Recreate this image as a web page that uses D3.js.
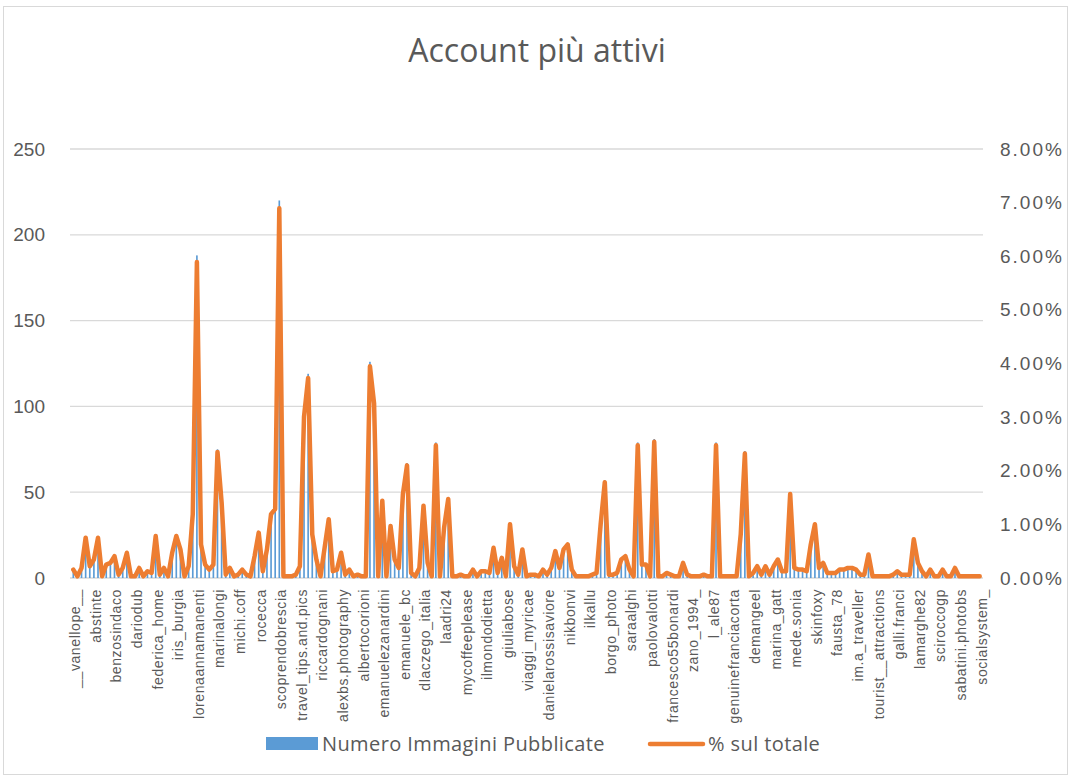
<!DOCTYPE html>
<html>
<head>
<meta charset="utf-8">
<title>Account più attivi</title>
<style>
    body { margin: 0; background: #fff; }
    svg { display: block; font-family: "Open Sans", "Noto Sans", sans-serif; }
</style>
</head>
<body>
<svg></svg>
<script src="https://d3js.org/d3.v7.min.js"></script>
<script>
    // account names shown on the axis (one every 5 accounts)
    let accountLabels = ["__vanellope__", "abstinte", "benzosindaco", "dariodub", "federica_home",
        "iris_burgia", "lorenaannamanenti", "marinalongi", "michi.coff", "rocecca",
        "scoprendobrescia", "travel_tips.and.pics", "riccardognani", "alexbs.photography", "albertocorioni",
        "emanuelezanardini", "emanuele_bc", "dlaczego_italia", "laadri24", "mycoffeeplease",
        "ilmondodietta", "giuliabose", "viaggi_myricae", "danielarossisaviore", "nikbonvi",
        "ilkallu", "borgo_photo", "saraalghi", "paolovalotti", "francesco55bonardi",
        "zano_1994_", "l_ale87", "genuinefranciacorta", "demangeel", "marina_gatt",
        "mede.sonia", "skinfoxy", "fausta_78", "im.a_traveller", "tourist__attractions",
        "galli.franci", "lamarghe82", "sciroccogp", "sabatini.photobs", "socialsystem_"];
    let labelEvery = 5;

    // Numero Immagini Pubblicate, one per account
    let immagini = [
        5, 1, 6, 24, 7, 11, 24, 1, 8, 9,
        13, 2, 6, 15, 1, 1, 6, 1, 4, 3,
        25, 2, 6, 1, 15, 25, 17, 1, 7, 38,
        188, 20, 8, 5, 8, 75, 45, 2, 6, 1,
        2, 5, 2, 1, 13, 27, 4, 17, 38, 41,
        220, 1, 1, 1, 2, 7, 96, 119, 26, 11,
        1, 18, 35, 4, 5, 15, 2, 5, 1, 2,
        1, 1, 126, 104, 1, 46, 1, 31, 11, 6,
        50, 67, 3, 1, 6, 43, 9, 1, 79, 1,
        30, 47, 1, 1, 2, 1, 1, 5, 1, 4,
        4, 3, 18, 3, 12, 1, 32, 7, 2, 17,
        1, 2, 2, 1, 5, 2, 6, 16, 6, 17,
        20, 5, 1, 1, 1, 1, 2, 3, 32, 57,
        2, 2, 3, 11, 13, 5, 1, 79, 8, 8,
        1, 81, 1, 1, 3, 2, 1, 1, 9, 2,
        1, 1, 1, 2, 1, 1, 79, 1, 1, 1,
        1, 1, 26, 74, 1, 3, 7, 2, 7, 2,
        7, 11, 4, 4, 50, 6, 5, 5, 4, 20,
        32, 6, 9, 3, 3, 3, 5, 5, 6, 6,
        5, 2, 2, 14, 1, 1, 1, 1, 1, 2,
        4, 2, 2, 2, 23, 9, 4, 1, 5, 1,
        1, 5, 1, 1, 6, 1, 1, 1, 1, 1, 1];
    // total number of images the percentage refers to
    let totaleImmagini = 3190;

    let leftTicks = [0, 50, 100, 150, 200, 250];
    let rightTicks = [0, 0.01, 0.02, 0.03, 0.04, 0.05, 0.06, 0.07, 0.08];

    let width = 1071, height = 778;
    let svg = d3.select("svg").attr("width", width).attr("height", height);

    let grey = "#595959";

    // chart border
    svg.append("rect")
        .attr("x", 3.5).attr("y", 6.5)
        .attr("width", 1064).attr("height", 768)
        .attr("fill", "#fff")
        .attr("stroke", "#d9d9d9");

    // title
    svg.append("text")
        .attr("x", 537).attr("y", 62)
        .attr("text-anchor", "middle")
        .attr("fill", grey)
        .style("font-size", "32px")
        .text("Account più attivi");

    let x = d3.scaleBand()
        .domain(d3.range(immagini.length))
        .range([70, 983])
        .padding(0.6);

    let y = d3.scaleLinear().domain([0, 250]).range([578, 149]);
    let y2 = d3.scaleLinear().domain([0, 0.08]).range([578, 149]);

    // gridlines
    svg.append("g")
        .selectAll("line")
        .data(leftTicks)
        .enter()
        .append("line")
        .attr("x1", 70).attr("x2", 983)
        .attr("y1", d => y(d)).attr("y2", d => y(d))
        .attr("stroke", "#d9d9d9")
        .attr("stroke-width", 1.3);

    // left axis
    let leftAxis = svg.append("g")
        .attr("transform", "translate(52,0)")
        .call(d3.axisLeft(y).tickValues(leftTicks).tickSize(0).tickPadding(7));
    leftAxis.select(".domain").remove();
    leftAxis.selectAll("text").attr("fill", grey).style("font-size", "19px");

    // right axis
    let rightAxis = svg.append("g")
        .attr("transform", "translate(993,0)")
        .call(d3.axisRight(y2).tickValues(rightTicks).tickFormat(d3.format(".2%")).tickSize(0).tickPadding(7));
    rightAxis.select(".domain").remove();
    rightAxis.selectAll("text").attr("fill", grey).style("font-size", "19px").style("letter-spacing", "2px");

    // category axis
    let xAxis = svg.append("g")
        .attr("transform", "translate(0,578)")
        .call(d3.axisBottom(x)
            .tickValues(d3.range(0, immagini.length, labelEvery))
            .tickFormat(i => accountLabels[i / labelEvery])
            .tickSize(0));
    xAxis.select(".domain").remove();
    xAxis.selectAll("text")
        .attr("fill", grey)
        .style("font-size", "14px")
        .style("letter-spacing", "0.6px")
        .attr("text-anchor", "end")
        .attr("transform", "rotate(-90)")
        .attr("x", -11)
        .attr("y", 2)
        .attr("dy", "0.35em");

    // bars
    svg.append("g")
        .selectAll("rect")
        .data(immagini)
        .enter()
        .append("rect")
        .attr("x", (d, i) => x(i))
        .attr("y", d => y(d))
        .attr("width", x.bandwidth())
        .attr("height", d => 578 - y(d))
        .attr("fill", "#5b9bd5");

    // percentage line
    let line = d3.line()
        .x((d, i) => x(i) + x.bandwidth() / 2)
        .y(d => y2(d / totaleImmagini));

    svg.append("path")
        .datum(immagini)
        .attr("d", line)
        .attr("fill", "none")
        .attr("stroke", "#ed7d31")
        .attr("stroke-width", 4.5)
        .attr("stroke-linejoin", "round")
        .attr("stroke-linecap", "round");

    // legend
    let legend = svg.append("g");
    legend.append("rect")
        .attr("x", 266).attr("y", 737)
        .attr("width", 52).attr("height", 13)
        .attr("fill", "#5b9bd5");
    legend.append("text")
        .attr("x", 322).attr("y", 751)
        .attr("fill", grey)
        .style("font-size", "20px")
        .style("letter-spacing", "0.4px")
        .text("Numero Immagini Pubblicate");
    legend.append("line")
        .attr("x1", 650).attr("x2", 703)
        .attr("y1", 744).attr("y2", 744)
        .attr("stroke", "#ed7d31")
        .attr("stroke-width", 4.5)
        .attr("stroke-linecap", "round");
    legend.append("text")
        .attr("x", 708).attr("y", 751)
        .attr("fill", grey)
        .style("font-size", "20px")
        .style("letter-spacing", "0.4px")
        .text("% sul totale");
</script>
</body>
</html>
